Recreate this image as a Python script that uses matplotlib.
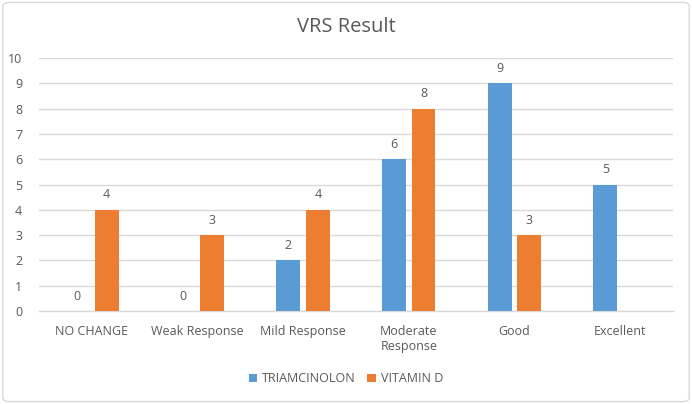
import numpy as np
from matplotlib import pyplot as plt
from matplotlib.patches import FancyBboxPatch

categories = ["NO CHANGE", "Weak Response", "Mild Response", "Moderate\nResponse", "Good", "Excellent"]
triamcinolon = [0, 0, 2, 6, 9, 5]
vitamin_d = [4, 3, 4, 8, 3, None]   # no bar for Excellent

blue = "#5B9BD5"
orange = "#ED7D31"
txt = "#595959"

plt.rcParams['font.family'] = ['Open Sans', 'DejaVu Sans']

fig = plt.figure(figsize=(6.92, 4.04), dpi=100)
ax = fig.add_axes([0.0564, 0.2302, 0.916, 0.6262])

x = np.arange(len(categories))
w = 0.225
off = 0.14

b1 = ax.bar(x - off, triamcinolon, w, color=blue, label="TRIAMCINOLON", zorder=3)
vd_x = [xi + off for xi, v in zip(x, vitamin_d) if v is not None]
vd_v = [v for v in vitamin_d if v is not None]
b2 = ax.bar(vd_x, vd_v, w, color=orange, label="VITAMIN D", zorder=3)

for bars in (b1, b2):
    for r in bars:
        h = r.get_height()
        ax.annotate(str(int(h)), (r.get_x() + r.get_width() / 2, h),
                    xytext=(0, 6), textcoords="offset points",
                    ha="center", va="bottom", fontsize=9, color=txt)

ax.set_xlim(-0.5, len(categories) - 0.5)
ax.set_ylim(0, 10)
ax.set_yticks(range(0, 11))
ax.set_xticks(x)
ax.set_xticklabels(categories)
ax.tick_params(axis="both", length=0, labelsize=9, colors=txt)
ax.tick_params(axis="x", pad=10)
ax.tick_params(axis="y", pad=12)
ax.grid(axis="y", color="#D9D9D9", linewidth=1, zorder=0)
for s in ["top", "right", "left"]:
    ax.spines[s].set_visible(False)
ax.spines["bottom"].set_color("#D9D9D9")
ax.spines["bottom"].set_linewidth(1)

fig.text(0.5, 0.933, "VRS Result", ha="center", va="center", fontsize=14.5, color=txt)

fig.legend(handles=[b1, b2], loc="center", bbox_to_anchor=(0.5, 0.062), ncol=2,
           frameon=False, fontsize=9, labelcolor=txt, handlelength=0.7,
           handleheight=0.7, columnspacing=0.9, handletextpad=0.4)

border = FancyBboxPatch((0.004, 0.006), 0.992, 0.988, boxstyle="round,pad=0,rounding_size=0.01",
                        transform=fig.transFigure, fill=False, edgecolor="#D9D9D9", linewidth=1)
fig.patches.append(border)

fig.savefig("out.png", dpi=100)
